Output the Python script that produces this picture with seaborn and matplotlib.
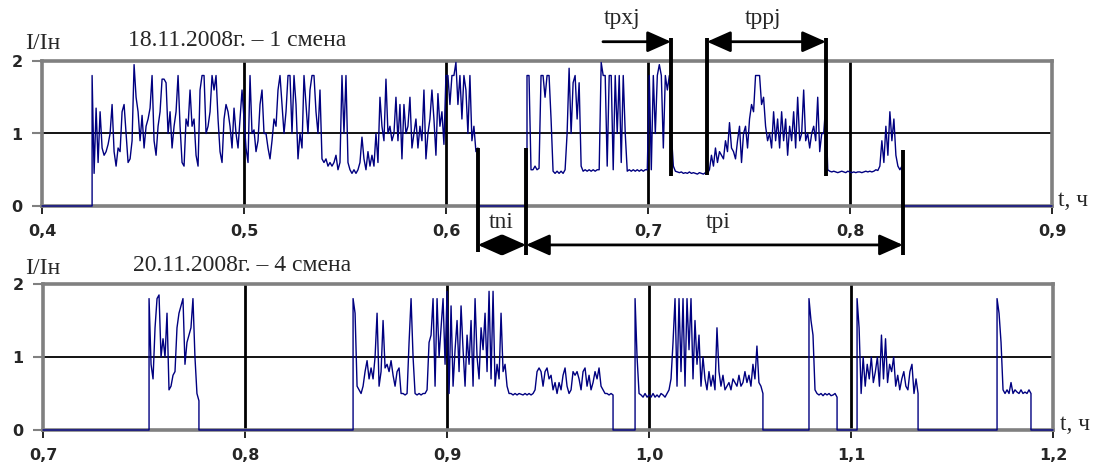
import numpy as np
import pandas as pd
import matplotlib
matplotlib.use("Agg")
import matplotlib.pyplot as plt
import seaborn as sns

# ---------------- data ----------------
# panel 1: 18.11.2008, shift 1  (t in hours, I/In)
p1_xlim = [0.4, 0.9]
p1_xticks = [0.4, 0.5, 0.6, 0.7, 0.8, 0.9]
p1_xticklabels = ["0,4", "0,5", "0,6", "0,7", "0,8", "0,9"]

p1_seg1_span = [0.4248, 0.6158]
p1_seg1_vals = [
    1.8, 0.45, 1.35, 0.6, 1.3, 0.8, 0.7, 0.75, 0.85, 1.0, 1.4, 0.75, 0.55, 0.8, 0.75, 1.3, 1.4, 1.0, 0.6, 0.65,
    0.9, 1.95, 1.5, 1.3, 0.9, 1.25, 0.8, 1.1, 1.2, 1.35, 1.8, 0.9, 0.7, 1.1, 1.3, 1.75, 1.75, 1.7, 1.0, 1.3,
    0.8, 1.1, 1.3, 1.8, 1.1, 0.6, 0.55, 1.2, 1.1, 1.6, 1.1, 1.2, 0.7, 0.55, 1.6, 1.8, 1.8, 1.0, 1.1, 1.3,
    1.8, 1.6, 1.8, 1.2, 0.75, 0.6, 1.2, 1.4, 1.3, 1.1, 0.8, 1.35, 1.0, 0.8, 1.2, 1.6, 1.2, 0.8, 0.6, 1.8,
    1.0, 1.05, 0.75, 0.9, 1.4, 1.6, 1.0, 1.0, 0.8, 0.65, 0.9, 1.2, 1.1, 1.6, 1.8, 1.4, 1.0, 1.3, 1.8, 1.8,
    1.0, 1.8, 1.4, 0.65, 1.0, 0.8, 1.8, 1.4, 1.0, 1.6, 1.8, 1.8, 1.3, 1.0, 1.6, 0.65, 0.6, 0.65, 0.55, 0.6,
    0.55, 0.6, 0.7, 0.5, 0.6, 1.8, 1.0, 1.8, 0.6, 0.5, 0.45, 0.5, 0.45, 0.5, 0.6, 0.95, 0.65, 0.5, 0.75,
    0.55, 0.7, 0.55, 1.0, 0.6, 1.5, 1.1, 0.9, 1.75, 1.0, 1.1, 0.9, 1.0, 1.5, 0.9, 1.4, 0.65, 1.4, 1.0, 1.1,
    1.5, 0.8, 1.0, 1.2, 0.8, 1.1, 0.9, 1.6, 0.65, 1.0, 1.2, 1.6, 1.2, 0.7, 1.55, 1.1, 1.3, 0.85, 1.8, 1.8,
    1.4, 1.8, 1.8, 1.98, 1.4, 1.8, 1.2, 1.8, 1.6, 1.0, 1.8, 0.9, 1.1, 0.75, 0.8,
]

p1_seg2_span = [0.6401, 0.8257]
p1_seg2_vals = [
    1.8, 1.8, 0.5, 0.5, 0.55, 0.5, 0.52, 1.8, 1.8, 1.5, 1.8, 1.8, 1.2, 0.48, 0.45, 0.48, 0.45, 0.48, 0.45, 0.5,
    1.0, 1.9, 1.0, 1.7, 1.8, 1.2, 1.7, 0.55, 0.48, 0.5, 0.48, 0.5, 0.48, 0.5, 0.48, 0.5, 0.5, 1.98, 1.8, 1.8,
    0.55, 1.8, 1.8, 0.5, 1.8, 1.0, 1.8, 0.6, 1.8, 1.0, 0.48, 0.5, 0.48, 0.5, 0.48, 0.5, 0.48, 0.5, 0.48, 0.5,
    0.5, 1.8, 0.5, 1.8, 1.0, 1.8, 1.95, 1.8, 0.8, 1.8, 1.6, 1.8, 1.0, 0.55, 0.48, 0.47, 0.46, 0.47, 0.45, 0.46,
    0.45, 0.47, 0.45, 0.46, 0.45, 0.44, 0.46, 0.45, 0.44, 0.46, 0.45, 0.5, 0.7, 0.55, 0.8, 0.6, 0.75, 0.7, 0.65, 0.9,
    0.75, 1.15, 0.8, 0.75, 0.65, 0.9, 1.1, 0.6, 1.0, 1.1, 0.8, 1.2, 1.4, 1.3, 1.8, 1.8, 1.8, 1.4, 1.5, 1.1,
    0.9, 1.0, 0.8, 1.3, 0.9, 1.2, 0.8, 1.3, 0.9, 1.2, 0.7, 1.1, 0.9, 1.3, 0.8, 1.5, 0.9, 1.0, 1.6, 0.9,
    1.0, 0.8, 1.0, 1.1, 0.9, 1.5, 0.75, 1.0, 1.0, 1.4, 0.5, 0.48, 0.47, 0.48, 0.47, 0.46, 0.47, 0.48, 0.47, 0.46,
    0.48, 0.47, 0.46, 0.47, 0.46, 0.47, 0.47, 0.46, 0.47, 0.48, 0.47, 0.48,
    0.47, 0.48, 0.5, 0.49, 0.55, 0.9, 0.6, 1.1, 0.7, 1.3, 0.9, 1.2, 0.7, 0.55, 0.5, 0.55,
]

# interval markers of panel 1 (hours)
t_ni = [0.6158, 0.6396]
t_pi = [0.6396, 0.8262]
t_pxj = [0.6777, 0.7114]
t_ppj = [0.7292, 0.7881]

# panel 2: 20.11.2008, shift 4
p2_xlim = [0.7, 1.2]
p2_xticks = [0.7, 0.8, 0.9, 1.0, 1.1, 1.2]
p2_xticklabels = ["0,7", "0,8", "0,9", "1,0", "1,1", "1,2"]

p2_seg1_span = [0.7525, 0.7772]
p2_seg1_vals = [1.8, 0.9, 0.7, 1.4, 1.8, 1.85, 1.0, 1.25, 1.0, 1.6, 0.55, 0.6, 0.75, 0.8, 1.4, 1.6, 1.7, 1.8,
                0.9, 1.2, 1.3, 1.4, 1.8, 1.0, 0.5, 0.4]

p2_seg2_span = [0.8535, 0.9822]
p2_seg2_vals = [
    1.8, 1.6, 0.6, 0.55, 0.5, 0.6, 0.8, 0.95, 0.7, 0.85, 0.7, 1.0, 1.6, 0.6, 0.8, 1.5, 0.85, 0.9, 0.8, 0.95,
    0.75, 0.6, 0.8, 0.85, 0.5, 0.5, 0.48, 0.5, 1.2, 1.8, 1.0, 0.5, 0.48, 0.5, 0.48, 0.5, 0.5, 0.55, 1.2, 1.3,
    1.8, 0.6, 1.8, 1.0, 1.4, 1.8, 0.9, 1.9, 0.5, 1.7, 0.6, 1.1, 1.5, 0.8, 1.7, 1.1, 0.6, 1.3, 0.9, 1.5,
    0.6, 1.8, 1.0, 0.7, 1.4, 1.1, 1.6, 0.8, 1.9, 0.7, 1.9, 0.6, 0.9, 0.7, 1.6, 0.8, 0.9, 0.6, 0.5, 0.5,
    0.48, 0.5, 0.48, 0.5, 0.49, 0.48, 0.5, 0.48, 0.5, 0.48, 0.5, 0.55, 0.8, 0.85, 0.8, 0.6, 0.8, 0.85, 0.7, 0.75,
    0.55, 0.65, 0.5, 0.65, 0.55, 0.75, 0.85, 0.6, 0.5, 0.55, 0.8, 0.75, 0.8, 0.7, 0.55, 0.8, 0.85, 0.6, 0.75, 0.55,
    0.65, 0.8, 0.7, 0.85, 0.6, 0.55, 0.5, 0.5, 0.48, 0.5, 0.48,
]

p2_seg3_span = [0.9931, 1.0564]
p2_seg3_vals = [
    1.8, 1.0, 0.5, 0.48, 0.45, 0.5, 0.45, 0.48, 0.45, 0.5, 0.45, 0.48, 0.45, 0.5, 0.48, 0.45, 0.5, 0.55, 0.7, 1.2,
    1.8, 0.6, 1.8, 0.8, 1.8, 0.6, 1.8, 1.1, 1.8, 0.7, 1.5, 0.9, 1.3, 0.6, 1.0, 0.7, 0.55, 0.8, 0.6, 0.75,
    0.55, 1.4, 0.8, 0.6, 0.75, 0.55, 0.6, 0.65, 0.55, 0.7, 0.65, 0.6, 0.75, 0.6, 0.65, 0.8, 0.65, 0.75, 0.6, 0.9,
    0.7, 1.15, 0.65, 0.6, 0.5,
]

p2_seg4_span = [1.0792, 1.0931]
p2_seg4_vals = [1.8, 1.5, 1.3, 0.55, 0.5, 0.48, 0.5, 0.47, 0.5, 0.48, 0.5, 0.47, 0.48, 0.5, 0.45]

p2_seg5_span = [1.1030, 1.1332]
p2_seg5_vals = [1.8, 1.4, 0.5, 1.0, 0.6, 0.9, 0.7, 1.0, 0.65, 0.8, 1.0, 0.6, 1.3, 0.7, 1.25, 0.65, 0.9, 0.8, 1.0, 0.6,
                0.75, 0.55, 0.7, 0.8, 0.6, 0.55, 0.8, 0.9, 0.5, 0.7, 0.5]

p2_seg6_span = [1.1723, 1.1891]
p2_seg6_vals = [1.8, 1.6, 1.2, 0.55, 0.5, 0.55, 0.5, 0.65, 0.5, 0.55, 0.52, 0.5, 0.55, 0.5, 0.52, 0.5, 0.55, 0.5]

yticks = [0, 1, 2]
yticklabels = ["0", "1", "2"]


def build_series(xlim, segments):
    ts, vs = [xlim[0]], [0.0]
    for span, vals in segments:
        tt = np.linspace(span[0], span[1], len(vals))
        ts += [span[0]] + list(tt) + [span[1]]
        vs += [0.0] + list(vals) + [0.0]
    ts.append(xlim[1])
    vs.append(0.0)
    return pd.DataFrame({"t": ts, "v": vs})


df1 = build_series(p1_xlim, [(p1_seg1_span, p1_seg1_vals), (p1_seg2_span, p1_seg2_vals)])
df2 = build_series(p2_xlim, [(p2_seg1_span, p2_seg1_vals), (p2_seg2_span, p2_seg2_vals),
                             (p2_seg3_span, p2_seg3_vals), (p2_seg4_span, p2_seg4_vals),
                             (p2_seg5_span, p2_seg5_vals), (p2_seg6_span, p2_seg6_vals)])

# ---------------- style ----------------
sns.set_style("white")
plt.rcParams["font.family"] = ["DejaVu Sans"]
SERIF = "Liberation Serif"
LINE_COLOR = "#000080"
GRAY = "#808080"

W, H = 1096, 465
fig = plt.figure(figsize=(W / 100, H / 100), dpi=100)
ax1 = fig.add_axes([42 / W, 1 - 206 / H, 1010 / W, 145 / H])
ax2 = fig.add_axes([43 / W, 1 - 430 / H, 1010 / W, 146 / H])


def style_axis(ax, df, xlim, xticks, xticklabels):
    sns.lineplot(data=df, x="t", y="v", ax=ax, color=LINE_COLOR, lw=1.0,
                 sort=False, estimator=None, zorder=4, clip_on=False)
    ax.set_xlim(xlim)
    ax.set_ylim(0, 2)
    ax.set_xlabel("")
    ax.set_ylabel("")
    for xv in xticks[1:-1]:
        ax.axvline(xv, color="black", lw=2.0, zorder=2)
    ax.axhline(1, color="black", lw=1.3, zorder=2)
    for s in ax.spines.values():
        s.set_color(GRAY)
        s.set_linewidth(2.6)
        s.set_visible(True)
        s.set_zorder(3)
    ax.set_xticks(xticks)
    ax.set_xticklabels(xticklabels, fontweight="bold", fontsize=11.5)
    ax.set_yticks(yticks)
    ax.set_yticklabels(yticklabels, fontweight="bold", fontsize=11.5)
    ax.tick_params(axis="x", direction="out", length=6, width=1.2, color="black", pad=7, bottom=True)
    ax.tick_params(axis="y", direction="out", length=7, width=1.5, color=GRAY, pad=7, left=True)
    ax.set_facecolor("white")


style_axis(ax1, df1, p1_xlim, p1_xticks, p1_xticklabels)
style_axis(ax2, df2, p2_xlim, p2_xticks, p2_xticklabels)

# ---------------- texts ----------------
def ftxt(xp, yp, s, **kw):
    fig.text(xp / W, 1 - yp / H, s, family=SERIF, fontsize=17, va="center", **kw)

ftxt(25, 43, "I/Iн")
ftxt(128, 40, "18.11.2008г. – 1 смена")
ftxt(1058, 200, "t, ч")
ftxt(25, 268, "I/Iн")
ftxt(133, 265, "20.11.2008г. – 4 смена")
ftxt(1060, 424, "t, ч")

# ---------------- interval annotations (panel 1) ----------------
mk = dict(color="black", lw=2.8, clip_on=False, zorder=5, solid_capstyle="butt")
ax1.plot([t_ni[0], t_ni[0]], [0.8, -0.64], **mk)
ax1.plot([t_ni[1], t_ni[1]], [0.8, -0.68], **mk)
ax1.plot([t_pi[1], t_pi[1]], [0.77, -0.68], **mk)
ax1.plot([t_pxj[1], t_pxj[1]], [2.32, 0.41], **mk)
ax1.plot([t_ppj[0], t_ppj[0]], [2.32, 0.43], **mk)
ax1.plot([t_ppj[1], t_ppj[1]], [2.32, 0.41], **mk)

arr_y_top = 2.266
arr_y_bot = -0.537
def arrow(x0, x1, y, style):
    ax1.annotate("", xy=(x1, y), xytext=(x0, y), xycoords="data", textcoords="data",
                 annotation_clip=False,
                 arrowprops=dict(arrowstyle=style + ",head_length=0.9,head_width=0.4",
                                 mutation_scale=16, lw=2.0, color="black",
                                 shrinkA=0, shrinkB=0))

arrow(t_pxj[0], t_pxj[1], arr_y_top, "-|>")
arrow(t_ppj[0], t_ppj[1], arr_y_top, "<|-|>")
arrow(t_ni[0], t_ni[1], arr_y_bot, "<|-|>")
arrow(t_pi[0], t_pi[1], arr_y_bot, "<|-|>")

lab = dict(family=SERIF, fontsize=17, ha="center", va="center", clip_on=False)
ax1.text(0.6871, 2.59, "tpxj", **lab)
ax1.text(0.7572, 2.59, "tppj", **lab)
ax1.text(0.6272, -0.234, "tni", **lab)
ax1.text(0.7349, -0.234, "tpi", **lab)

fig.savefig("out.png", dpi=100, facecolor="white")
